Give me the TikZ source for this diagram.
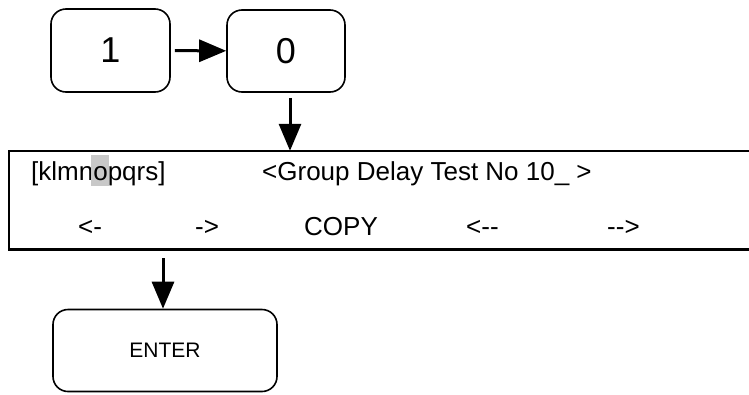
\documentclass[tikz,border=0pt]{standalone}
\usepackage{fontspec}
\setmainfont{Liberation Sans}
\usetikzlibrary{arrows.meta,calc}
\definecolor{hl}{RGB}{200,200,200}
\begin{document}
\begin{tikzpicture}[x=1pt,y=-1pt,
  keybox/.style={draw,line width=1.6pt,rounded corners=15pt,inner sep=0pt},
  arr/.style={line width=3pt,-{Triangle[length=27pt,width=22pt]}},
  lbl/.style={inner sep=0pt,anchor=base west,font=\fontsize{26}{31}\selectfont}]
\useasboundingbox (0,0) rectangle (749,394);
\node[keybox,minimum width=119pt,minimum height=83pt,font=\fontsize{36}{43}\selectfont] (b1) at (110.5,50.5) {1};
\node[keybox,minimum width=118pt,minimum height=82pt,font=\fontsize{36}{43}\selectfont] (b0) at (286,51) {0};
\node[keybox,minimum width=224pt,minimum height=82pt,font=\fontsize{21}{25}\selectfont] (enter) at (165,350.5) {ENTER};
\node[inner sep=0pt,minimum width=740pt,minimum height=98pt] (disp) at (379,200) {};
\draw[line width=2.6pt] (disp.north east) -- (disp.north west) -- (disp.south west) -- (disp.south east);
\draw[arr,shorten <=4pt] (b1) -- (b0);
\coordinate (d0) at ($(b0.south)+(4,0)$);
\draw[arr,shorten <=5pt] (d0) -- (d0 |- disp.north);
\coordinate (d1) at ($(enter.north)+(-2,0)$);
\draw[arr,shorten <=9pt] (d1 |- disp.south) -- (d1);
\node[lbl] (t1) at (31,180) {[klmn\makebox[0pt][l]{\hspace{-2pt}\textcolor{hl}{\rule[-6pt]{18pt}{31pt}}}opqrs]};
\node[lbl] (t2) at (262,180) {<Group Delay Test No 10\_ >};
\node[lbl] (k1) at (78,235) {<-};
\node[lbl] (k2) at (195,235) {->};
\node[lbl] (k3) at (304,235) {COPY};
\node[lbl] (k4) at (466,235) {<-{}-};
\node[lbl] (k5) at (607,235) {-{}->};
\end{tikzpicture}
\end{document}
